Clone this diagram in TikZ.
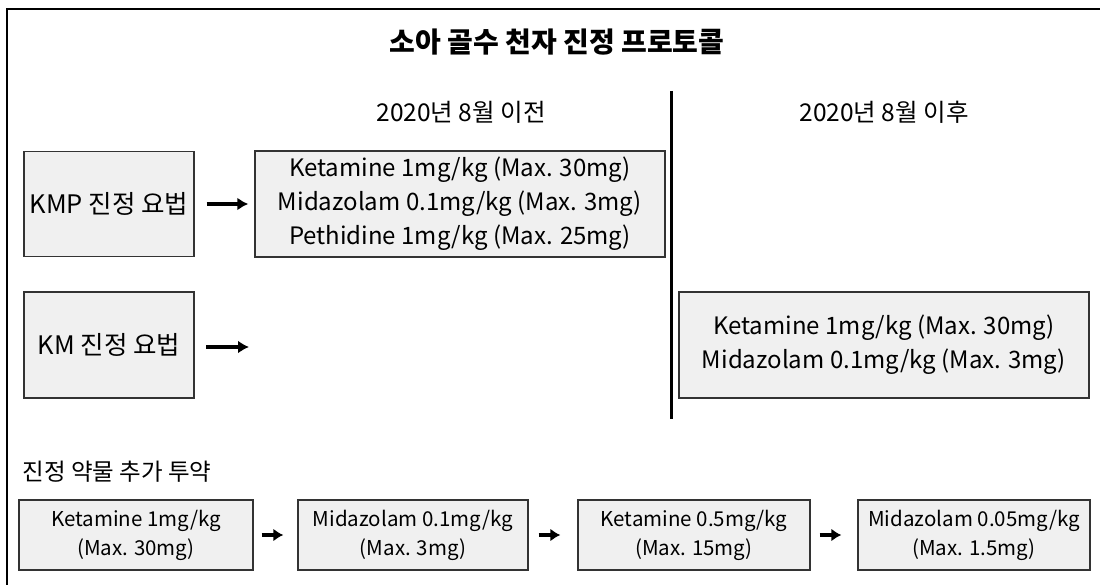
\documentclass[tikz,border=0pt]{standalone}
\usepackage{fontspec}
\setmainfont{Noto Sans CJK KR}
\usetikzlibrary{arrows.meta}
\begin{document}
\begin{tikzpicture}[x=1pt,y=-1pt,
  box/.style={draw=black!80,line width=1.4pt,fill=black!6,rectangle,align=center,inner sep=0pt},
  arr/.style={line width=3.4pt,-{Latex[length=11pt,width=13pt]}},
  sarr/.style={line width=3.4pt,-{Latex[length=10pt,width=13pt]}},
  bigtxt/.style={font=\fontsize{24}{34}\selectfont},
  lbltxt/.style={font=\fontsize{25.5}{30}\selectfont},
  smalltxt/.style={font=\fontsize{20.5}{29}\selectfont}]
\useasboundingbox (0,0) rectangle (1100,585);
\draw[line width=2pt] (7,585) -- (7,9) -- (1100,9);
\node[font=\fontsize{28}{32}\selectfont\bfseries] (title) at (557,42) {소아 골수 천자 진정 프로토콜};
\node[font=\fontsize{24.5}{28}\selectfont] (hbefore) at (461,112) {2020년 8월 이전};
\node[font=\fontsize{24.5}{28}\selectfont] (hafter) at (884,112) {2020년 8월 이후};
\coordinate (dtop) at (671,91);
\coordinate (dbot) at (671,419);
\draw[line width=3pt] (dtop) -- (dbot);
\node[box,lbltxt,minimum width=170pt,minimum height=105pt] (kmp) at (109,204) {KMP 진정 요법};
\node[box,bigtxt,minimum width=410pt,minimum height=106pt] (dose) at (460,204) {Ketamine 1mg/kg (Max. 30mg)\\Midazolam 0.1mg/kg (Max. 3mg)\\Pethidine 1mg/kg (Max. 25mg)};
\node[box,lbltxt,minimum width=170pt,minimum height=106pt] (km) at (109,345) {KM 진정 요법};
\node[box,bigtxt,minimum width=410pt,minimum height=106pt] (after) at (884,345) {Ketamine 1mg/kg (Max. 30mg)\\Midazolam 0.1mg/kg (Max. 3mg)};
\coordinate (kmend) at (249,347);
\coordinate (kmstart) at (206,347);
\draw[arr,shorten <=12pt,shorten >=6pt] (kmp.east) -- (dose.west);
\draw[arr] (kmstart) -- (kmend);
\node[font=\fontsize{23.5}{28}\selectfont,anchor=west] (extra) at (19,472) {진정 약물 추가 투약};
\node[box,smalltxt,minimum width=234pt,minimum height=70pt] (b1) at (136,535) {Ketamine 1mg/kg\\(Max. 30mg)};
\node[box,smalltxt,minimum width=230pt,minimum height=70pt] (b2) at (413,535) {Midazolam 0.1mg/kg\\(Max. 3mg)};
\node[box,smalltxt,minimum width=232pt,minimum height=70pt] (b3) at (694,535) {Ketamine 0.5mg/kg\\(Max. 15mg)};
\node[box,smalltxt,minimum width=232pt,minimum height=70pt] (b4) at (974,535) {Midazolam 0.05mg/kg\\(Max. 1.5mg)};
\draw[sarr,shorten <=8pt,shorten >=14pt] (b1.east) -- (b2.west);
\draw[sarr,shorten <=10pt,shorten >=17pt] (b2.east) -- (b3.west);
\draw[sarr,shorten <=9pt,shorten >=16pt] (b3.east) -- (b4.west);
\end{tikzpicture}
\end{document}
